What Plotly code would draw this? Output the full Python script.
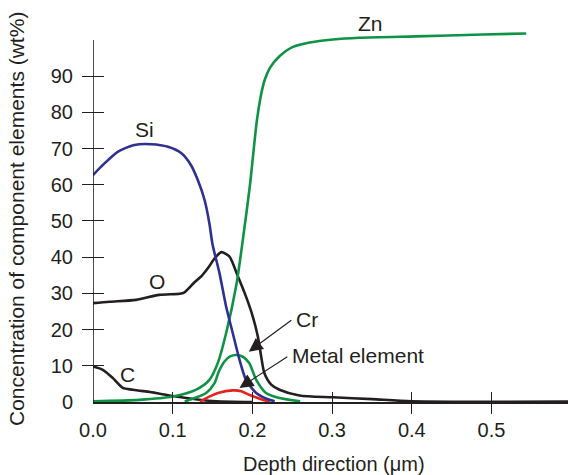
import plotly.graph_objects as go

# ---- data ----
si_x = [0, 0.0144, 0.031, 0.052, 0.073, 0.094, 0.111, 0.123, 0.1315, 0.140, 0.146, 0.150,
        0.1587, 0.167, 0.1754, 0.1838, 0.192, 0.2048, 0.2215, 0.228]
si_y = [62.7, 65.9, 69.1, 71.0, 71.2, 70.5, 68.7, 65.4, 61.3, 55.8, 49.4, 43.5,
        35.6, 26.4, 19.0, 11.7, 6.1, 2.5, 0.6, 0.2]

zn_x = [0, 0.058, 0.1, 0.1295, 0.146, 0.1566, 0.167, 0.180, 0.188, 0.1967, 0.2055, 0.211,
        0.2155, 0.222, 0.234, 0.251, 0.280, 0.334, 0.4055, 0.489, 0.5435]
zn_y = [0.2, 0.6, 1.5, 3.4, 6.1, 10.8, 19.0, 32.5, 44.8, 59.5, 77.5, 85.0,
        89.0, 92.3, 95.5, 98.1, 99.6, 100.6, 101.0, 101.5, 101.8]

o_x = [0, 0.0207, 0.054, 0.083, 0.1085, 0.1148, 0.127, 0.137, 0.145, 0.152, 0.161, 0.171,
       0.182, 0.192, 0.2005, 0.2068, 0.211, 0.215, 0.2236, 0.234, 0.259, 0.301, 0.35, 0.40, 0.6]
o_y = [27.3, 27.7, 28.2, 29.6, 29.9, 30.3, 33.0, 35.0, 37.2, 39.5, 41.4, 40.2,
       34.6, 29.1, 23.6, 18.1, 12.6, 8.0, 4.8, 3.4, 1.8, 1.3, 0.8, 0.2, 0.1]

c_x = [0, 0.0123, 0.025, 0.0374, 0.050, 0.079, 0.104, 0.1336, 0.1546, 0.2]
c_y = [9.8, 8.9, 6.6, 3.9, 3.4, 2.5, 1.5, 0.6, 0.2, 0.0]

cr_x = [0.115, 0.121, 0.142, 0.1525, 0.158, 0.165, 0.172, 0.180, 0.188, 0.196, 0.2048,
        0.217, 0.234, 0.26]
cr_y = [0.1, 0.6, 2.5, 5.2, 8.5, 11.2, 12.6, 13.0, 12.5, 10.8, 6.1, 2.5, 1.1, 0.2]

me_x = [0.134, 0.146, 0.157, 0.1754, 0.186, 0.196, 0.213, 0.222]
me_y = [0.1, 1.5, 2.5, 3.2, 3.0, 2.0, 0.6, 0.1]

x_ticks = [0.0, 0.1, 0.2, 0.3, 0.4, 0.5]
x_ticktext = ["0.0", "0.1", "0.2", "0.3", "0.4", "0.5"]
y_ticks = [0, 10, 20, 30, 40, 50, 60, 70, 80, 90]

X_MAX = 0.596
Y_MAX = 108
Y_AXIS_TOP = 100

FONT = "Liberation Sans, Arial, Helvetica, sans-serif"
TXT = "#231f20"

fig = go.Figure()

def curve(x, y, color, width=2.6):
    fig.add_trace(go.Scatter(x=x, y=y, mode="lines",
                             line=dict(color=color, width=width, shape="spline", smoothing=0.7),
                             hoverinfo="skip", showlegend=False))

curve(c_x, c_y, "#231f20")
curve(o_x, o_y, "#231f20")
curve(zn_x, zn_y, "#0e9345")
curve(cr_x, cr_y, "#0e9345")
curve(me_x, me_y, "#e3231d")
curve(si_x, si_y, "#2e3192", width=2.6)

# helper trace for the overlay tick axes
fig.add_trace(go.Scatter(x=[0], y=[0], xaxis="x2", yaxis="y2", mode="markers",
                         marker=dict(opacity=0), hoverinfo="skip", showlegend=False))

plot_h = 475 - 73 - 11
plot_w = 568 - 93

fig.update_layout(
    width=568, height=475,
    margin=dict(l=93, r=0, t=11, b=73),
    paper_bgcolor="white", plot_bgcolor="white",
    font=dict(family=FONT, size=20, color=TXT),
    xaxis=dict(range=[0, X_MAX], tickvals=x_ticks, ticktext=x_ticktext, ticks="",
               showline=True, linecolor="#231f20", linewidth=1.6, showgrid=False,
               zeroline=False, ticklabelstandoff=9, tickfont=dict(size=20, color=TXT)),
    yaxis=dict(range=[0, Y_MAX], tickvals=y_ticks, ticks="", showline=False,
               showgrid=False, zeroline=False, ticklabelstandoff=19,
               tickfont=dict(size=20, color=TXT)),
    xaxis2=dict(range=[0, X_MAX], matches="x", overlaying="x", anchor="free",
                position=11 / plot_h, tickvals=x_ticks[1:], ticks="outside", ticklen=22,
                tickwidth=1.4, tickcolor="#231f20", showticklabels=False,
                showline=False, showgrid=False, zeroline=False),
    yaxis2=dict(range=[0, Y_MAX], matches="y", overlaying="y", anchor="free",
                position=11 / plot_w, side="left", tickvals=y_ticks[1:], ticks="outside",
                ticklen=22, tickwidth=1.4, tickcolor="#231f20", showticklabels=False,
                showline=False, showgrid=False, zeroline=False),
)

# y axis line stops at 100
fig.add_shape(type="line", xref="x", yref="y", x0=0, x1=0, y0=0, y1=Y_AXIS_TOP,
              line=dict(color="#231f20", width=1.6))

# curve labels
labels = [("Si", 0.0646, 75.2), ("O", 0.0805, 33.4), ("C", 0.0437, 7.6),
          ("Zn", 0.348, 104.6), ("Cr", 0.2685, 22.7), ("Metal element", 0.333, 12.85)]
for t, lx, ly in labels:
    fig.add_annotation(x=lx, y=ly, xref="x", yref="y", text=t, showarrow=False,
                       font=dict(size=21, color=TXT))

# arrows
arrows = [((0.1955, 13.9), (0.2507, 22.9)), ((0.1838, 3.9), (0.2457, 12.8))]
for (hx, hy), (tx, ty) in arrows:
    fig.add_annotation(x=hx, y=hy, ax=tx, ay=ty, xref="x", yref="y", axref="x", ayref="y",
                       text="", showarrow=True, arrowhead=2, arrowsize=2.3,
                       arrowwidth=1.2, arrowcolor="#231f20")

# axis titles
fig.add_annotation(xref="paper", yref="paper", x=(16 - 93) / plot_w,
                   y=(402 - 219) / plot_h, text="Concentration of component elements (wt%)",
                   textangle=-90, showarrow=False, xanchor="center", yanchor="middle",
                   font=dict(size=21, color=TXT))
fig.add_annotation(xref="paper", yref="paper", x=(334 - 93) / plot_w,
                   y=(402 - 463.5) / plot_h, text="Depth direction (\u03bcm)",
                   showarrow=False, xanchor="center", yanchor="middle",
                   font=dict(size=20, color=TXT))

fig.write_html("out.html", post_script="document.body.style.margin='0px';",
               config={"displayModeBar": False})
